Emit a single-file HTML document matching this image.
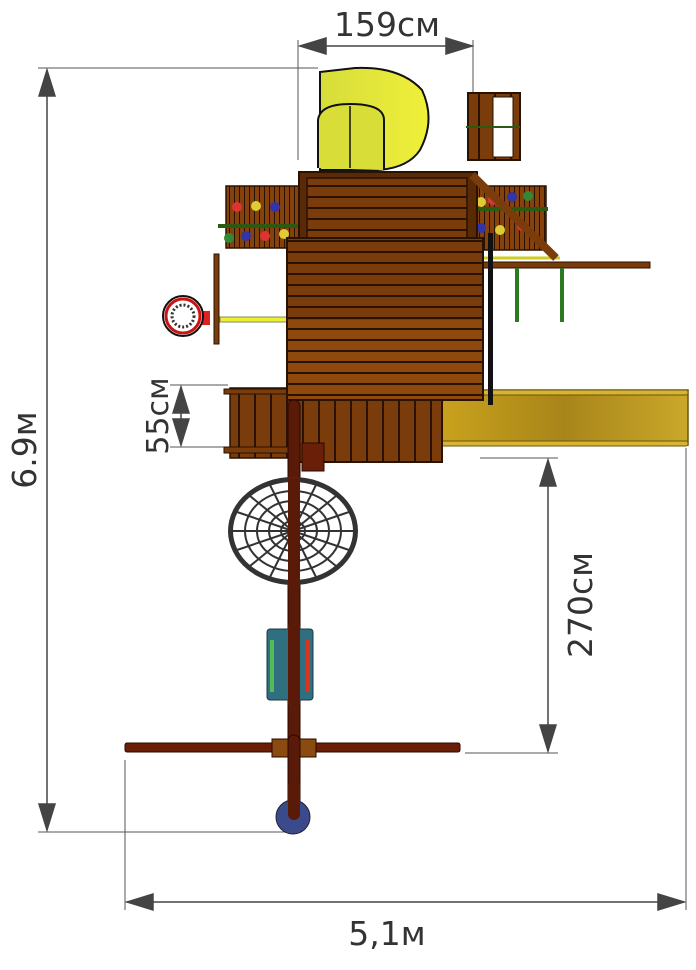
<!DOCTYPE html>
<html><head><meta charset="utf-8"><style>
html,body{margin:0;padding:0;background:#fff;width:696px;height:970px;overflow:hidden}
svg{display:block}
text{font-family:"DejaVu Sans","Liberation Sans",sans-serif;fill:#333}
</style></head><body>
<svg width="696" height="970" viewBox="0 0 696 970">
<defs>
<pattern id="hpl" width="10" height="11" patternUnits="userSpaceOnUse"><rect width="10" height="11" fill="#7a3c0a"/><rect y="9" width="10" height="2" fill="#2a1200"/></pattern>
<pattern id="hpl2" width="10" height="11" patternUnits="userSpaceOnUse"><rect width="10" height="11" fill="#8e4a0c"/><rect y="9" width="10" height="2" fill="#2a1200"/></pattern>
<pattern id="vpl" width="16" height="10" patternUnits="userSpaceOnUse"><rect width="16" height="10" fill="#7a3c0a"/><rect x="14" width="2" height="10" fill="#2a1200"/></pattern>
<pattern id="vth" width="5" height="10" patternUnits="userSpaceOnUse"><rect width="5" height="10" fill="#86420c"/><rect x="4" width="1" height="10" fill="#2a1200"/></pattern>
<linearGradient id="slide" x1="0" x2="1"><stop offset="0" stop-color="#c9a21c"/><stop offset="0.5" stop-color="#a8851a"/><stop offset="1" stop-color="#c9a82a"/></linearGradient>
<linearGradient id="tube" x1="0" x2="1"><stop offset="0" stop-color="#d6dc3a"/><stop offset="1" stop-color="#f0f03a"/></linearGradient>
</defs>
<g stroke="#555" stroke-width="1" fill="none">
<line x1="298" y1="40" x2="298" y2="160"/><line x1="473" y1="40" x2="473" y2="95"/>
<line x1="38" y1="68" x2="318" y2="68"/><line x1="38" y1="832" x2="290" y2="832"/>
<line x1="170" y1="385" x2="228" y2="385"/><line x1="170" y1="447" x2="228" y2="447"/>
<line x1="480" y1="458" x2="558" y2="458"/><line x1="465" y1="753" x2="558" y2="753"/>
<line x1="125" y1="760" x2="125" y2="910"/><line x1="686" y1="448" x2="686" y2="910"/>
</g>
<g stroke="#444" stroke-width="1.5" fill="#444">
<line x1="300" y1="46" x2="472" y2="46"/><polygon points="300,46 326,38 326,54"/><polygon points="472,46 446,38 446,54"/>
<line x1="47" y1="70" x2="47" y2="830"/><polygon points="47,70 39,96 55,96"/><polygon points="47,830 39,804 55,804"/>
<line x1="181" y1="387" x2="181" y2="445"/><polygon points="181,387 173,413 189,413"/><polygon points="181,445 173,419 189,419"/>
<line x1="548" y1="460" x2="548" y2="751"/><polygon points="548,460 540,486 556,486"/><polygon points="548,751 540,725 556,725"/>
<line x1="127" y1="902" x2="684" y2="902"/><polygon points="127,902 153,894 153,910"/><polygon points="684,902 658,894 658,910"/>
</g>
<text x="387" y="36" font-size="33" text-anchor="middle">159см</text>
<text x="387" y="945" font-size="33" text-anchor="middle">5,1м</text>
<text transform="translate(36,450) rotate(-90)" font-size="33" text-anchor="middle">6.9м</text>
<text transform="translate(168,416) rotate(-90)" font-size="30" text-anchor="middle">55см</text>
<text transform="translate(592,605) rotate(-90)" font-size="33" text-anchor="middle">270см</text>

<path d="M320,72 L355,68 Q400,66 422,90 Q436,120 420,150 Q408,168 378,170 L320,170 Z" fill="url(#tube)" stroke="#111" stroke-width="2"/>
<path d="M318,168 L318,120 Q320,104 350,104 Q384,104 384,120 L384,170" fill="#d9dd38" stroke="#111" stroke-width="2"/>
<line x1="350" y1="106" x2="350" y2="168" stroke="#111" stroke-width="1.5"/>
<rect x="468" y="93" width="52" height="67" fill="url(#vpl)" stroke="#2a1200" stroke-width="2"/>
<rect x="493" y="97" width="20" height="60" fill="#fff" stroke="#2a1200"/>
<line x1="466" y1="127" x2="520" y2="127" stroke="#2b5a10" stroke-width="2"/>
<rect x="226" y="186" width="73" height="62" fill="url(#vth)" stroke="#2a1200" stroke-width="1.5"/>
<rect x="476" y="186" width="70" height="64" fill="url(#vth)" stroke="#2a1200" stroke-width="1.5"/>
<line x1="218" y1="226" x2="298" y2="226" stroke="#2b5a10" stroke-width="4"/>
<line x1="478" y1="209" x2="548" y2="209" stroke="#2b5a10" stroke-width="4"/>
<g>
<circle cx="237" cy="207" r="5" fill="#d33"/><circle cx="256" cy="206" r="5" fill="#dc3"/><circle cx="275" cy="207" r="5" fill="#33a"/>
<circle cx="229" cy="238" r="5" fill="#383"/><circle cx="246" cy="236" r="5" fill="#33a"/><circle cx="265" cy="236" r="5" fill="#d33"/><circle cx="284" cy="234" r="5" fill="#dc3"/>
<circle cx="493" cy="200" r="5" fill="#d33"/><circle cx="512" cy="197" r="5" fill="#33a"/><circle cx="528" cy="196" r="5" fill="#383"/>
<circle cx="481" cy="202" r="5" fill="#dc3"/><circle cx="481" cy="228" r="5" fill="#33a"/><circle cx="500" cy="230" r="5" fill="#dc3"/><circle cx="522" cy="226" r="5" fill="#d33"/>
</g>
<rect x="299" y="172" width="178" height="70" fill="#5a2a06" stroke="#2a1200" stroke-width="2"/>
<rect x="307" y="178" width="160" height="62" fill="url(#hpl)" stroke="#2a1200" stroke-width="1.5"/>
<rect x="480" y="262" width="170" height="6" fill="#7a3c0a" stroke="#2a1200"/>
<line x1="478" y1="258" x2="560" y2="258" stroke="#cc2" stroke-width="3"/>
<line x1="472" y1="175" x2="556" y2="258" stroke="#7a3c0a" stroke-width="8"/>
<line x1="517" y1="268" x2="517" y2="322" stroke="#2b7a20" stroke-width="4"/>
<line x1="562" y1="268" x2="562" y2="322" stroke="#2b7a20" stroke-width="4"/>
<rect x="214" y="254" width="5" height="90" fill="#7a3c0a" stroke="#2a1200"/>
<rect x="220" y="317" width="70" height="5" fill="#ee3" stroke="#886"/>
<rect x="200" y="311" width="10" height="14" fill="#d22"/>
<circle cx="183" cy="316" r="20" fill="#fff" stroke="#111" stroke-width="2"/>
<circle cx="183" cy="316" r="17" fill="none" stroke="#c11" stroke-width="3"/>
<circle cx="183" cy="316" r="11" fill="none" stroke="#333" stroke-width="3" stroke-dasharray="2 2"/>
<rect x="440" y="390" width="248" height="55" fill="url(#slide)" stroke="#6a5510" stroke-width="1.5"/>
<rect x="440" y="390" width="248" height="5" rx="2" fill="#d8b530" stroke="#6a5510"/>
<rect x="440" y="441" width="248" height="5" rx="2" fill="#d8b530" stroke="#6a5510"/>
<rect x="230" y="388" width="60" height="70" fill="url(#vpl)" stroke="#2a1200" stroke-width="1.5"/>
<rect x="224" y="447" width="70" height="6" fill="#7a3c0a" stroke="#2a1200"/>
<rect x="224" y="389" width="70" height="5" fill="#7a3c0a" stroke="#2a1200"/>
<rect x="292" y="398" width="150" height="64" fill="url(#vpl)" stroke="#2a1200" stroke-width="2"/>
<rect x="287" y="238" width="196" height="162" fill="url(#hpl)" stroke="#2a1200" stroke-width="2"/>
<rect x="288" y="320" width="194" height="79" fill="url(#hpl2)"/>
<rect x="488" y="233" width="5" height="172" fill="#111"/>
<rect x="288" y="400" width="12" height="420" rx="6" fill="#5a1a08" stroke="#2a0800"/>
<rect x="302" y="443" width="22" height="28" fill="#6a2008" stroke="#2a0800"/>
<ellipse cx="293" cy="531" rx="65" ry="54" fill="#333"/>
<ellipse cx="293" cy="531" rx="60" ry="49" fill="#fff"/>
<g fill="none" stroke="#333" stroke-width="2">
<ellipse cx="293" cy="531" rx="48" ry="40"/><ellipse cx="293" cy="531" rx="36" ry="30"/><ellipse cx="293" cy="531" rx="24" ry="20"/><ellipse cx="293" cy="531" rx="12" ry="10"/>
</g>
<g stroke="#333" stroke-width="2">
<line x1="233" y1="531" x2="353" y2="531"/><line x1="293" y1="482" x2="293" y2="580"/>
<line x1="250" y1="496" x2="336" y2="566"/><line x1="250" y1="566" x2="336" y2="496"/>
<line x1="237" y1="512" x2="349" y2="550"/><line x1="237" y1="550" x2="349" y2="512"/>
<line x1="270" y1="485" x2="316" y2="577"/><line x1="270" y1="577" x2="316" y2="485"/>
</g>
<rect x="288" y="478" width="12" height="110" fill="#5a1a08"/>
<rect x="267" y="629" width="46" height="71" rx="3" fill="#2f6f80" stroke="#1a3a44"/>
<rect x="270" y="640" width="4" height="52" fill="#5b5"/>
<rect x="306" y="640" width="4" height="52" fill="#d32"/>
<rect x="288" y="625" width="12" height="80" fill="#5a1a08"/>
<rect x="125" y="743" width="335" height="9" rx="2" fill="#6a1e08" stroke="#2a0800"/>
<rect x="272" y="739" width="44" height="18" fill="#8a4a10" stroke="#2a0800"/>
<rect x="288" y="735" width="12" height="85" rx="6" fill="#5a1a08" stroke="#2a0800"/>
<circle cx="293" cy="817" r="17" fill="#3a4a8a" stroke="#223"/>
<rect x="288" y="780" width="12" height="40" rx="6" fill="#5a1a08"/>
</svg>
</body></html>
